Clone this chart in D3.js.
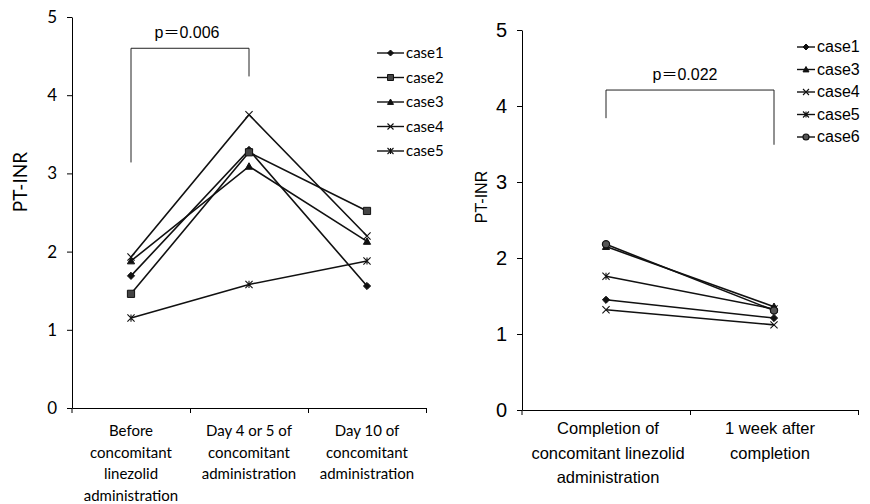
<!DOCTYPE html>
<html>
<head>
<meta charset="UTF-8">
<title>PT-INR</title>
<style>
  body { margin: 0; background: #fff; }
  svg { display: block; }
</style>
</head>
<body>
<script src="https://cdn.jsdelivr.net/npm/d3@7"></script>
<script>
// ---- data: left panel ----
var leftCategories = [
  ["Before", "concomitant", "linezolid", "administration"],
  ["Day 4 or 5 of", "concomitant", "administration"],
  ["Day 10 of", "concomitant", "administration"]
]
var leftCases = ["case1", "case2", "case3", "case4", "case5"]
var leftCase1 = [1.69, 3.30, 1.56]
var leftCase2 = [1.46, 3.27, 2.52]
var leftCase3 = [1.88, 3.09, 2.13]
var leftCase4 = [1.93, 3.75, 2.20]
var leftCase5 = [1.15, 1.58, 1.88]
var leftP = "p\uFF1D0.006"

// ---- data: right panel ----
var rightCategories = [
  ["Completion of", "concomitant linezolid", "administration"],
  ["1 week after", "completion"]
]
var rightCases = ["case1", "case3", "case4", "case5", "case6"]
var rightCase1 = [1.45, 1.21]
var rightCase3 = [2.15, 1.36]
var rightCase4 = [1.32, 1.12]
var rightCase5 = [1.76, 1.33]
var rightCase6 = [2.18, 1.31]
var rightP = "p\uFF1D0.022"

var yTicks = [0, 1, 2, 3, 4, 5]

// marker per case name
var markerOf = {
  case1: "diamond", case2: "square", case3: "triangle",
  case4: "times", case5: "asterisk", case6: "circle"
}

var svg = d3.select("body").append("svg")
  .attr("width", 870)
  .attr("height", 504)

function markerPath(type, r) {
  if (type == "diamond") return "M0," + (-r) + "L" + r + ",0L0," + r + "L" + (-r) + ",0Z"
  if (type == "square") return "M" + (-r) + "," + (-r) + "h" + 2 * r + "v" + 2 * r + "h" + (-2 * r) + "Z"
  if (type == "triangle") return "M0," + (-r) + "L" + r + "," + r * 0.8 + "L" + (-r) + "," + r * 0.8 + "Z"
  if (type == "times") return "M" + (-r) + "," + (-r) + "L" + r + "," + r + "M" + (-r) + "," + r + "L" + r + "," + (-r)
  if (type == "asterisk") return "M" + (-r) + "," + (-r) + "L" + r + "," + r + "M" + (-r) + "," + r + "L" + r + "," + (-r) + "M0," + (-r) + "V" + r
  return null
}

function drawMarker(g, type, x, y, r) {
  if (type == "circle") {
    g.append("circle").attr("cx", x).attr("cy", y).attr("r", r)
      .attr("fill", "#555").attr("stroke", "#111").attr("stroke-width", 1.2)
    return
  }
  var open = (type == "times" || type == "asterisk")
  g.append("path")
    .attr("d", markerPath(type, r))
    .attr("transform", "translate(" + x + "," + y + ")")
    .attr("fill", open ? "none" : (type == "square" ? "#444" : "#111"))
    .attr("stroke", "#111")
    .attr("stroke-width", open ? 1.1 : 1)
}

function drawPanel(cfg) {
  var g = svg.append("g")
  var n = cfg.categories.length

  var x = d3.scaleBand().domain(d3.range(n)).range([cfg.left, cfg.right]).padding(0)
  var xEdge = d3.scaleLinear().domain([0, n]).range([cfg.left, cfg.right])
  var y = d3.scaleLinear().domain([0, 5]).range([cfg.bottom, cfg.top])
  var cx = function (i) { return x(i) + x.bandwidth() / 2 }

  // y axis
  var yAxis = g.append("g")
    .attr("transform", "translate(" + cfg.left + ",0)")
    .call(d3.axisLeft(y).tickValues(yTicks).tickSize(5).tickSizeOuter(0).tickFormat(d3.format("d")))
  yAxis.select(".domain").attr("stroke", "#000")
  yAxis.selectAll(".tick line").attr("stroke", "#000")
  yAxis.selectAll(".tick text")
    .attr("x", cfg.tickLabelX - cfg.left)
    .attr("fill", "#000")
    .style("font-family", cfg.font)
    .style("font-size", cfg.tickFont + "px")

  // x axis
  var xAxis = g.append("g")
    .attr("transform", "translate(0," + cfg.bottom + ")")
    .call(d3.axisBottom(xEdge).tickValues(d3.range(1, n + 1)).tickSize(5).tickSizeOuter(0).tickFormat(""))
  xAxis.select(".domain").attr("stroke", "#000")
  xAxis.selectAll(".tick line").attr("stroke", "#000")
  g.append("line")
    .attr("x1", cfg.left).attr("x2", cfg.left)
    .attr("y1", cfg.bottom).attr("y2", cfg.bottom + 5)
    .attr("stroke", "#000")

  // category labels
  cfg.categories.forEach(function (lines, i) {
    var t = g.append("text")
      .attr("text-anchor", "middle")
      .style("font-family", cfg.font)
      .style("font-size", cfg.catFont + "px")
    lines.forEach(function (s, k) {
      t.append("tspan")
        .attr("x", cx(i) + (cfg.catShift ? cfg.catShift[i] : 0))
        .attr("y", cfg.catY + k * cfg.catStep)
        .text(s)
    })
  })

  // y title
  g.append("text")
    .attr("transform", "translate(" + cfg.titleX + "," + cfg.titleY + ") rotate(-90)")
    .attr("text-anchor", "middle")
    .style("font-family", cfg.font)
    .style("font-size", cfg.titleFont + "px")
    .text("PT-INR")

  // lines + markers
  var line = d3.line().x(function (d, i) { return cx(i) }).y(function (d) { return y(d) })
  cfg.series.forEach(function (vals, s) {
    g.append("path")
      .attr("d", line(vals))
      .attr("fill", "none")
      .attr("stroke", "#111")
      .attr("stroke-width", 1.6)
  })
  cfg.series.forEach(function (vals, s) {
    vals.forEach(function (v, i) {
      drawMarker(g, markerOf[cfg.cases[s]], cx(i), y(v), 3.6)
    })
  })

  // significance bracket
  var b = cfg.bracket
  g.append("path")
    .attr("d", "M" + cx(0) + "," + y(b[1]) + "V" + y(b[0]) + "H" + cx(1) + "V" + y(b[2]))
    .attr("fill", "none")
    .attr("stroke", "#222")
    .attr("stroke-width", 1)
  g.append("text")
    .attr("x", (cx(0) + cx(1)) / 2 + cfg.pShift)
    .attr("y", y(b[0]) - 10)
    .attr("text-anchor", "middle")
    .style("font-family", "'Liberation Sans', 'Noto Sans CJK JP', sans-serif")
    .style("font-size", "16px")
    .text(cfg.p)

  // legend
  cfg.cases.forEach(function (name, k) {
    var ly = cfg.legY + k * cfg.legStep
    g.append("line")
      .attr("x1", cfg.legX).attr("x2", cfg.legX + cfg.legLen)
      .attr("y1", ly).attr("y2", ly)
      .attr("stroke", "#111").attr("stroke-width", 1.4)
    drawMarker(g, markerOf[name], cfg.legX + cfg.legLen / 2, ly, 3)
    g.append("text")
      .attr("x", cfg.legX + cfg.legLen + 2)
      .attr("y", ly + 5)
      .style("font-family", cfg.font)
      .style("font-size", cfg.legFont + "px")
      .text(name)
  })
}

drawPanel({
  categories: leftCategories,
  cases: leftCases,
  series: [leftCase1, leftCase2, leftCase3, leftCase4, leftCase5],
  left: 72, right: 426, top: 17, bottom: 408,
  font: "Lato, 'Open Sans', sans-serif",
  tickFont: 17, tickLabelX: 57,
  catFont: 15, catY: 436, catStep: 21.5,
  titleX: 27, titleY: 182, titleFont: 19,
  bracket: [4.6, 3.14, 4.24], p: leftP, pShift: -3,
  legX: 377, legLen: 27, legY: 53, legStep: 24.5, legFont: 15
})

drawPanel({
  categories: rightCategories,
  cases: rightCases,
  series: [rightCase1, rightCase3, rightCase4, rightCase5, rightCase6],
  left: 522, right: 858, top: 30, bottom: 410,
  font: "'Liberation Sans', Arial, sans-serif",
  tickFont: 20, tickLabelX: 507,
  catFont: 16.5, catY: 434, catStep: 24.5, catShift: [2, -4],
  titleX: 487, titleY: 197, titleFont: 16,
  bracket: [4.21, 3.84, 3.49], p: rightP, pShift: -5,
  legX: 797, legLen: 18, legY: 47, legStep: 22.5, legFont: 16
})
</script>
</body>
</html>
